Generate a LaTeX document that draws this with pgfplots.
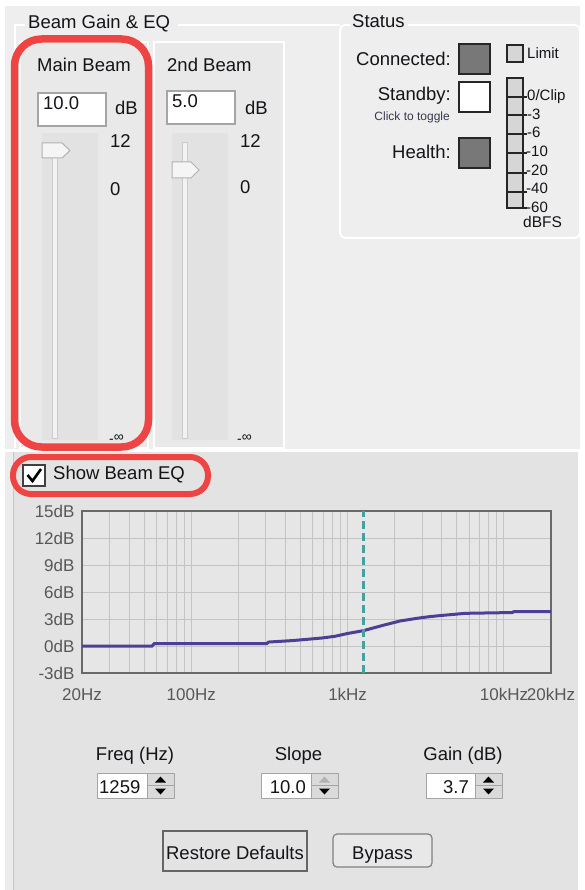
\documentclass[border=0pt]{standalone}
\usepackage{pgfplots}
\pgfplotsset{compat=1.18}
\usepackage{fontspec}
\setmainfont{Liberation Sans}
\definecolor{topbg}{RGB}{238,238,238}
\definecolor{botbg}{RGB}{227,227,227}
\definecolor{panelbg}{RGB}{233,233,233}
\definecolor{trackbg}{RGB}{226,226,226}
\definecolor{leftstrip}{RGB}{236,236,236}
\definecolor{plotbg}{RGB}{230,230,230}
\definecolor{gridc}{RGB}{196,196,196}
\definecolor{framec}{RGB}{105,105,105}
\definecolor{tickc}{RGB}{88,88,88}
\definecolor{curvec}{RGB}{78,62,150}
\definecolor{dashc}{RGB}{72,160,158}
\definecolor{redc}{RGB}{238,68,68}
\definecolor{darksq}{RGB}{120,120,120}
\definecolor{lightcell}{RGB}{214,214,214}
\definecolor{boxb}{RGB}{165,165,165}
\definecolor{spinf}{RGB}{218,218,218}
\definecolor{txt}{RGB}{20,20,25}
\newcommand{\fs}[1]{\fontsize{#1}{#1}\selectfont}
\newcommand{\spin}[3]{%
  \draw[boxb, fill=spinf, line width=1pt] (#1,-773) rectangle (#2,-798);
  \draw[boxb, line width=1pt] (#1,-785.5) -- (#2,-785.5);
  \fill[#3] ({(#1+#2)/2-5.5},-782.5) -- ({(#1+#2)/2+5.5},-782.5) -- ({(#1+#2)/2},-776.5) -- cycle;
  \fill[black] ({(#1+#2)/2-5.5},-788.5) -- ({(#1+#2)/2+5.5},-788.5) -- ({(#1+#2)/2},-794.5) -- cycle;}
\begin{document}
\begin{tikzpicture}
\begin{scope}[x=1pt,y=1pt, every node/.style={inner sep=0pt, text=txt}]
\path[use as bounding box] (0,0) rectangle (584,-890);
\fill[white] (0,0) rectangle (584,-890);
% panels
\fill[topbg] (5,-6) rectangle (580,-450);
\fill[leftstrip] (5,-450) rectangle (13,-890);
\fill[botbg] (13,-452) rectangle (578,-890);
\draw[white, line width=3pt] (5,-450) -- (580,-450);
\draw[gray!45, line width=1pt] (13.5,-452) -- (13.5,-890);
% group box Beam Gain & EQ
\draw[white, line width=2pt] (15,-448) -- (15,-25) -- (25,-25);
\draw[white, line width=2pt] (178,-25) -- (340,-25);
\node[anchor=base west, font=\fs{18.5}] at (28,-29) {Beam Gain \& EQ};
% Status group box
\draw[white, line width=2pt, rounded corners=5pt] (350,-25) -- (340,-25) -- (340,-238) -- (580,-238) -- (580,-25) -- (408,-25);
\node[anchor=base west, font=\fs{18.5}] at (352,-28) {Status};
% slider panels
\draw[white, line width=2pt, fill=panelbg] (20,-42) rectangle (148,-448);
\draw[white, line width=2pt, fill=panelbg] (154,-42) rectangle (284,-448);
\fill[trackbg] (42,-133) rectangle (98,-440);
\fill[trackbg] (172,-133) rectangle (228,-440);
\node[anchor=base west, font=\fs{18.5}] at (37,-72) {Main Beam};
\node[anchor=base west, font=\fs{18.5}] at (167,-72) {2nd Beam};
\draw[boxb, fill=white, line width=1.2pt] (38,-93) rectangle (106,-126);
\draw[boxb, fill=white, line width=1.2pt] (167,-91) rectangle (235,-124);
\node[anchor=base west, font=\fs{18.5}] at (43,-110) {10.0};
\node[anchor=base west, font=\fs{18.5}] at (172,-108) {5.0};
\node[anchor=base west, font=\fs{18.5}] at (115,-115) {dB};
\node[anchor=base west, font=\fs{18.5}] at (245,-115) {dB};
\node[anchor=base west, font=\fs{18.5}] at (110,-148) {12};
\node[anchor=base west, font=\fs{18.5}] at (110,-196) {0};
\node[anchor=base west, font=\fs{18.5}] at (240,-147.5) {12};
\node[anchor=base west, font=\fs{18.5}] at (240,-194) {0};
\node[anchor=base west, font=\fs{14}] at (109,-441) {\raisebox{-2.5pt}{-}∞};
\node[anchor=base west, font=\fs{14}] at (237,-441) {\raisebox{-2.5pt}{-}∞};
% slider tracks
\draw[gray!40, fill=gray!10, line width=0.8pt] (52,-150) rectangle (57,-438);
\draw[gray!40, fill=gray!10, line width=0.8pt] (182,-142) rectangle (187,-438);
\draw[gray!60, fill=gray!8, line width=1pt] (42,-143) -- (62,-143) -- (70,-150.5) -- (62,-158) -- (42,-158) -- cycle;
\draw[gray!60, fill=gray!8, line width=1pt] (172,-162) -- (191,-162) -- (199,-170) -- (191,-178) -- (172,-178) -- cycle;
% status
\node[anchor=base east, font=\fs{18.5}] at (451,-66) {Connected:};
\node[anchor=base east, font=\fs{18.5}] at (451,-100.5) {Standby:};
\node[anchor=base east, font=\fs{12}, text={rgb,255:red,55;green,55;blue,80}] at (450,-121) {Click to toggle};
\node[anchor=base east, font=\fs{18.5}] at (451,-159) {Health:};
\draw[black!85, fill=darksq, line width=1.5pt] (459,-44) rectangle (490,-74);
\draw[black!85, fill=white, line width=1.5pt] (459,-82) rectangle (490,-112);
\draw[black!85, fill=darksq, line width=1.5pt] (459,-138) rectangle (490,-168);
\draw[black!85, fill=lightcell, line width=1.2pt] (507,-45) rectangle (523,-62);
\node[anchor=base west, font=\fs{15}] at (527,-59) {Limit};
\draw[black!85, fill=lightcell, line width=1.5pt] (507,-78) rectangle (523,-208);
\foreach \yy in {97,115,134,153,173,192,208} {\draw[black!85, line width=1.5pt] (507,-\yy) -- (527,-\yy);}
\node[anchor=base west, font=\fs{15}] at (527,-100.5) {0/Clip};
\node[anchor=base west, font=\fs{15}] at (527,-119.5) {-3};
\node[anchor=base west, font=\fs{15}] at (527,-137.5) {-6};
\node[anchor=base west, font=\fs{15}] at (526,-156.5) {-10};
\node[anchor=base west, font=\fs{15}] at (526,-175.5) {-20};
\node[anchor=base west, font=\fs{15}] at (526,-193.5) {-40};
\node[anchor=base west, font=\fs{15}] at (526,-212.5) {-60};
\node[anchor=base west, font=\fs{15.5}] at (523,-228) {dBFS};
% red highlights
\draw[redc, line width=7.5pt, rounded corners=27pt] (14.5,-39) rectangle (148.5,-447);
\draw[redc, line width=6pt, rounded corners=18pt] (13,-457) rectangle (208,-494);
% checkbox
\draw[black!75, fill=white, line width=1.2pt] (23,-465) rectangle (45,-486);
\draw[black, line width=2.6pt] (27.5,-475) -- (32.5,-481) -- (41,-469);
\node[anchor=base west, font=\fs{18.5}] at (53,-479) {Show Beam EQ};
% bottom controls
\node[anchor=base, font=\fs{18.5}] at (135,-760) {Freq (Hz)};
\node[anchor=base, font=\fs{18.5}] at (298.5,-760) {Slope};
\node[anchor=base, font=\fs{18.5}] at (463,-760) {Gain (dB)};
\draw[boxb, fill=white, line width=1pt] (97,-773) rectangle (147,-798);
\draw[boxb, fill=white, line width=1pt] (261,-773) rectangle (311,-798);
\draw[boxb, fill=white, line width=1pt] (426,-773) rectangle (475,-798);
\node[anchor=base west, font=\fs{18.5}] at (99,-793) {1259};
\node[anchor=base east, font=\fs{18.5}] at (306,-793) {10.0};
\node[anchor=base east, font=\fs{18.5}] at (469,-793) {3.7};
\spin{147}{174}{black}
\spin{311}{338}{gray!60}
\spin{475}{502}{black}
\draw[black!60, fill=botbg, line width=1.5pt] (163,-831) rectangle (307,-871);
\node[anchor=base, font=\fs{18.5}] at (235,-859) {Restore Defaults};
\draw[black!50, fill=black!9, line width=1.2pt, rounded corners=4pt] (333,-834) rectangle (432,-867);
\node[anchor=base, font=\fs{18.5}] at (382.5,-859) {Bypass};
\end{scope}
\begin{axis}[
  at={(82pt,-673pt)}, anchor=south west,
  width=469pt, height=162pt, scale only axis,
  xmode=log, xmin=20, xmax=20000, ymin=-3, ymax=15,
  xtick={20,100,1000,10000,20000},
  xticklabels={20Hz,100Hz,1kHz,10kHz,20kHz},
  minor xtick={30,40,50,60,70,80,90,200,300,400,500,600,700,800,900,2000,3000,4000,5000,6000,7000,8000,9000},
  ytick={-3,0,3,6,9,12,15},
  yticklabels={-3dB,0dB,3dB,6dB,9dB,12dB,15dB},
  grid=both,
  major grid style={draw=gridc, line width=1pt},
  minor grid style={draw=gridc, line width=1pt},
  major tick length=0pt, minor tick length=0pt,
  axis line style={draw=framec, line width=1.5pt},
  axis background/.style={fill=plotbg},
  tick label style={font=\fs{17}, text=tickc},
  xticklabel style={anchor=base, yshift=-27pt},
  yticklabel style={xshift=-4pt},
]
\addplot[curvec, line width=3pt, mark=none] table {
f dB
20 0
56 0
58 0.27
305 0.27
312 0.44
441 0.6
550 0.74
686 0.89
831 1.08
992 1.38
1166 1.6
1259 1.7
1686 2.3
2166 2.78
2782 3.08
3370 3.27
4080 3.41
5640 3.63
11300 3.72
11600 3.82
20000 3.82
};
\addplot[dashc, line width=2.5pt, dash pattern=on 8pt off 4pt, mark=none] coordinates {(1259,-3) (1259,15)};
\end{axis}
\end{tikzpicture}
\end{document}
